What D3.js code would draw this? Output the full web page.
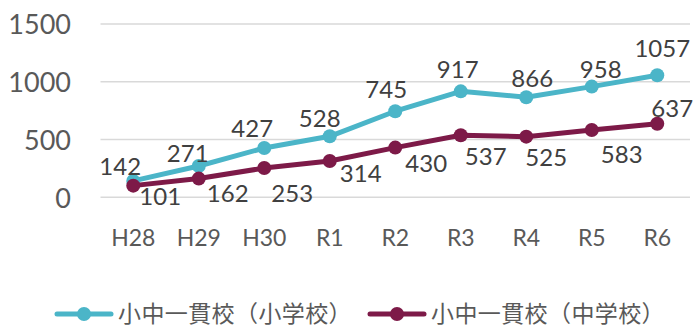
<!DOCTYPE html>
<html>
<head>
<meta charset="utf-8">
<script src="https://cdn.jsdelivr.net/npm/d3@7/dist/d3.min.js"></script>
<style>
  html, body { margin: 0; padding: 0; background: #fff; }
  svg { display: block; }
</style>
</head>
<body>
<svg id="chart" width="697" height="330"></svg>
<script>
// Fiscal years on the x axis
const categories = ["H28", "H29", "H30", "R1", "R2", "R3", "R4", "R5", "R6"];
// Series names
const seriesNames = ["小中一貫校（小学校）", "小中一貫校（中学校）"];
// Counts per year
const elementary = [142, 271, 427, 528, 745, 917, 866, 958, 1057];
const juniorHigh = [101, 162, 253, 314, 430, 537, 525, 583, 637];
// Y axis ticks
const yTicks = [0, 500, 1000, 1500];

// Label placement nudges (px) relative to each point
const labelDxA = [-13, -11, -12, -10, -9, -3, 6, 9, 5];
const labelDyA = [-6, -4, -11, -9, -13, -13, -10, -9, -18];
const labelDxB = [27, 29, 28, 31, 31, 25, 20, 30, 15];
const labelDyB = [19, 23, 34, 21, 24, 30, 29, 33, -7];

const colors = ["#4BB5C8", "#7D1A48"];
const textColor = "#595959";
const numFont = "Lato, 'Liberation Sans', sans-serif";
const cjkFont = "'Noto Sans CJK JP', 'Noto Sans', sans-serif";

const svg = d3.select("#chart");

const x = d3.scaleBand().domain(categories).range([100.5, 690]).padding(0);
const cx = c => x(c) + x.bandwidth() / 2;
const y = d3.scaleLinear().domain([0, 1500]).range([197.3, 24]);

// Gridlines
svg.append("g")
  .selectAll("line")
  .data(yTicks)
  .join("line")
  .attr("x1", 100.5).attr("x2", 690)
  .attr("y1", d => y(d)).attr("y2", d => y(d))
  .attr("stroke", "#D9D9D9").attr("stroke-width", 1.4);

// Y axis labels
const yAxis = d3.axisLeft(y).tickValues(yTicks).tickSize(0).tickPadding(0).tickFormat(d3.format("d"));
svg.append("g")
  .attr("transform", "translate(71,0)")
  .call(yAxis)
  .call(g => g.select(".domain").remove())
  .selectAll("text")
  .attr("fill", textColor)
  .attr("font-family", numFont)
  .attr("font-size", 27)
  .attr("dy", "0.36em");

// X axis labels
const xAxis = d3.axisBottom(x).tickSize(0).tickPadding(0);
svg.append("g")
  .attr("transform", "translate(0,229)")
  .call(xAxis)
  .call(g => g.select(".domain").remove())
  .selectAll("text")
  .attr("fill", textColor)
  .attr("font-family", numFont)
  .attr("font-size", 23)
  .attr("dy", "0.72em");

const series = [
  { name: seriesNames[0], values: elementary, color: colors[0], dx: labelDxA, dy: labelDyA },
  { name: seriesNames[1], values: juniorHigh, color: colors[1], dx: labelDxB, dy: labelDyB }
];

const line = d3.line().x((d, i) => cx(categories[i])).y(d => y(d));

series.forEach(s => {
  svg.append("path")
    .datum(s.values)
    .attr("d", line)
    .attr("fill", "none")
    .attr("stroke", s.color)
    .attr("stroke-width", 5)
    .attr("stroke-linejoin", "round");
  svg.append("g")
    .selectAll("circle")
    .data(s.values)
    .join("circle")
    .attr("cx", (d, i) => cx(categories[i]))
    .attr("cy", d => y(d))
    .attr("r", 7)
    .attr("fill", s.color);
});

// Value labels
series.forEach(s => {
  svg.append("g")
    .selectAll("text")
    .data(s.values)
    .join("text")
    .attr("x", (d, i) => cx(categories[i]) + s.dx[i])
    .attr("y", (d, i) => y(d) + s.dy[i])
    .attr("text-anchor", "middle")
    .attr("fill", "#404040")
    .attr("font-family", numFont)
    .attr("font-size", 24)
    .text(d => d);
});

// Legend
const legendX = [57, 370];
const legend = svg.append("g");
series.forEach((s, i) => {
  const g = legend.append("g").attr("transform", `translate(${legendX[i]},314)`);
  g.append("line").attr("x1", 0).attr("x2", 54).attr("y1", 0).attr("y2", 0)
    .attr("stroke", s.color).attr("stroke-width", 5).attr("stroke-linecap", "round");
  g.append("circle").attr("cx", 27).attr("cy", 0).attr("r", 7).attr("fill", s.color);
  g.append("text")
    .attr("x", 61).attr("y", 0)
    .attr("dy", "0.36em")
    .attr("fill", textColor)
    .attr("font-family", cjkFont)
    .attr("font-size", 23)
    .attr("letter-spacing", 0.4)
    .text(s.name);
});
</script>
</body>
</html>
